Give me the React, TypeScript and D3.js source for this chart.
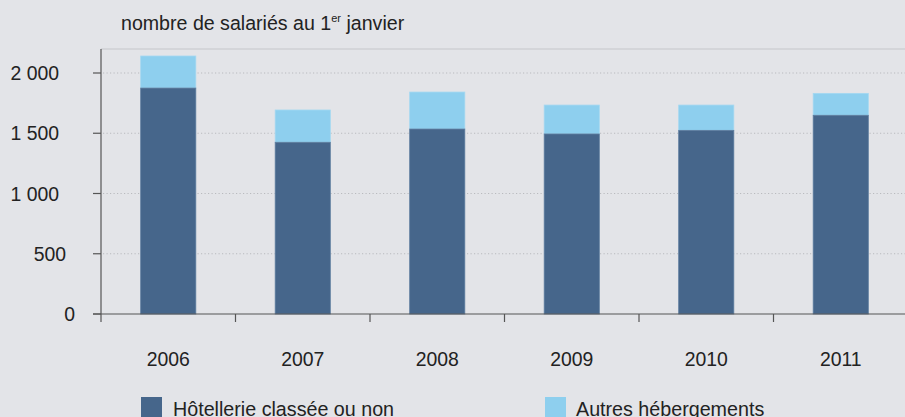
import React from "react";
import * as d3 from "d3";

const years = ["2006", "2007", "2008", "2009", "2010", "2011"];
const hotellerie = [1875, 1425, 1535, 1494, 1524, 1649];
const autres = [266, 268, 307, 240, 210, 182];
const yTicks = [0, 500, 1000, 1500, 2000];
const yTickLabels = ["0", "500", "1 000", "1 500", "2 000"];
const seriesNames = ["Hôtellerie classée ou non", "Autres hébergements"];
const colors = ["#46668b", "#8ecfee"];

const W = 905;
const H = 417;
const margin = { left: 101, top: 49, bottom: 103 };
const plotRight = 908;

export default function App() {
  const x = d3.scaleBand<string>().domain(years).range([margin.left, plotRight]).paddingInner(0.59).paddingOuter(0.295);
  const xBoundaries = d3.scaleLinear().domain([0, years.length]).range([margin.left, plotRight]);
  const y = d3.scaleLinear().domain([0, 2000]).range([H - margin.bottom, 73]);
  const font = "'Liberation Sans', Arial, sans-serif";
  const y0 = y(0);
  return (
    <svg width={W} height={H} style={{ position: "absolute", left: 0, top: 0, background: "#e3e4e8" }} fontFamily={font}>
      <rect x={0} y={0} width={W} height={H} fill="#e3e4e8" />
      <text x={121} y={30} fontSize={19.6} fill="#222">
        nombre de salariés au 1<tspan fontSize={11} dy={-8}>er</tspan>
        <tspan dy={8}> janvier</tspan>
      </text>
      <line x1={margin.left} x2={W} y1={margin.top} y2={margin.top} stroke="#cfd0d4" strokeWidth={1.5} />
      {yTicks.filter((t) => t > 0).map((t) => (
        <line key={"g" + t} x1={margin.left + 2} x2={W} y1={y(t)} y2={y(t)} stroke="#b9babe" strokeWidth={1} strokeDasharray="1.2,2.3" />
      ))}
      {years.map((yr, i) => {
        const bx = x(yr)!;
        const bw = x.bandwidth();
        const hTop = y(hotellerie[i]);
        const tTop = y(hotellerie[i] + autres[i]);
        return (
          <g key={yr}>
            <rect x={bx} y={tTop} width={bw} height={hTop - tTop} fill={colors[1]} stroke="#a4d8f1" strokeWidth={0.8} />
            <rect x={bx} y={hTop} width={bw} height={y0 - hTop} fill={colors[0]} stroke="#5f7ea0" strokeWidth={0.8} />
          </g>
        );
      })}
      <line x1={margin.left} x2={margin.left} y1={margin.top} y2={y0 + 8} stroke="#555" strokeWidth={1.2} />
      <line x1={93} x2={W} y1={y0} y2={y0} stroke="#555" strokeWidth={1.2} />
      {yTicks.map((t, i) => (
        <g key={"t" + t}>
          <line x1={93} x2={margin.left} y1={y(t)} y2={y(t)} stroke="#555" strokeWidth={1.2} />
          <text x={t === 0 ? 75 : t === 500 ? 66 : 59} y={y(t) + 7} fontSize={19.4} textAnchor="end" fill="#222">
            {yTickLabels[i]}
          </text>
        </g>
      ))}
      {d3.range(1, years.length).map((k) => (
        <line key={"b" + k} x1={xBoundaries(k)} x2={xBoundaries(k)} y1={y0} y2={y0 + 8} stroke="#555" strokeWidth={1.2} />
      ))}
      {years.map((yr) => (
        <text key={"l" + yr} x={x(yr)! + x.bandwidth() / 2} y={366} fontSize={19.4} textAnchor="middle" fill="#222">
          {yr}
        </text>
      ))}
      {seriesNames.map((n, i) => (
        <g key={n}>
          <rect x={141 + i * 404} y={397} width={21} height={21} fill={colors[i]} />
          <text x={173 + i * 403} y={416} fontSize={19.7} fill="#222">
            {n}
          </text>
        </g>
      ))}
    </svg>
  );
}
